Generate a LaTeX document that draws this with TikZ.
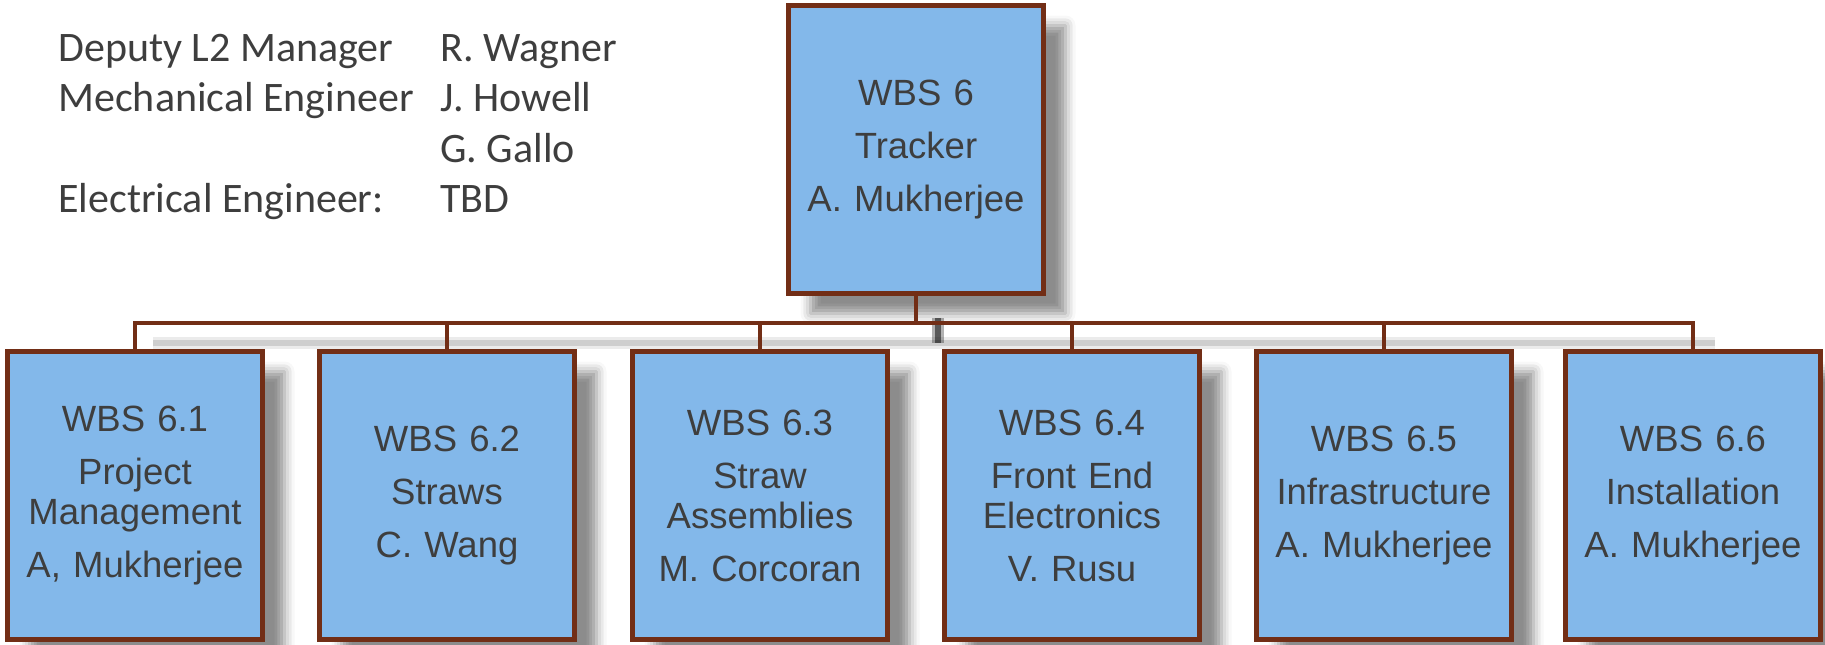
\documentclass[tikz,border=0pt]{standalone}
\usepackage{fontspec}
\setmainfont{Liberation Sans}
\newfontfamily\calib{Carlito}
\usetikzlibrary{shadows.blur}
\definecolor{boxfill}{RGB}{131,184,234}
\definecolor{boxline}{RGB}{114,46,22}
\definecolor{txt}{RGB}{62,62,62}
\begin{document}
\begin{tikzpicture}[x=0.5pt,y=-0.5pt,
  wbs/.style={draw=boxline, line width=2.5pt, fill=boxfill, minimum width=127.5pt,
    minimum height=144pt, text width=124pt, align=center, inner sep=0pt, text=txt,
    font=\fontsize{18.25}{20}\selectfont,
    blur shadow={shadow xshift=11pt, shadow yshift=-10pt, shadow blur radius=5pt, shadow opacity=45}},
  conn/.style={draw=boxline, line width=2pt},
  cshadow/.style={draw=black, opacity=#1},
  info/.style={anchor=base west, inner sep=0pt, text=txt, font=\calib\fontsize{21}{25}\selectfont}]
\useasboundingbox (0,0) rectangle (1825,644);

\coordinate (bus) at (916,323);
\coordinate (busS) at (938,343);
\coordinate (busSL) at (153,343);
\coordinate (busSR) at (1715,343);

% info text
\node[info] (l1) at (58,61) {Deputy L2 Manager};
\node[info] (l2) at (58,111) {Mechanical Engineer};
\node[info] (l4) at (58,212) {Electrical Engineer:};
\node[info] (v1) at (440,61) {R. Wagner};
\node[info] (v2) at (440,111) {J. Howell};
\node[info] (v3) at (440,162) {G. Gallo};
\node[info] (v4) at (440,212) {TBD};

% connector shadows
\draw[cshadow=0.08, line width=6pt] (busSL) -- (busSR);
\draw[cshadow=0.12, line width=3pt] (busSL) -- (busSR);
\draw[cshadow=0.3, line width=6pt] (938,318) -- (busS);
\draw[cshadow=0.5, line width=3pt] (938,318) -- (busS);

% boxes
\node[wbs] (top) at (916,149.5) {WBS 6\\[6.5pt]Tracker\\[6.5pt]A. Mukherjee};
\node[wbs] (b1) at (135,495.5) {WBS 6.1\\[6.5pt]Project\\Management\\[6.5pt]A, Mukherjee};
\node[wbs] (b2) at (447,495.5) {WBS 6.2\\[6.5pt]Straws\\[6.5pt]C. Wang};
\node[wbs] (b3) at (760,495.5) {WBS 6.3\\[6.5pt]Straw\\Assemblies\\[6.5pt]M. Corcoran};
\node[wbs] (b4) at (1072,495.5) {WBS 6.4\\[6.5pt]Front End\\Electronics\\[6.5pt]V. Rusu};
\node[wbs] (b5) at (1384,495.5) {WBS 6.5\\[6.5pt]Infrastructure\\[6.5pt]A. Mukherjee};
\node[wbs] (b6) at (1693,495.5) {WBS 6.6\\[6.5pt]Installation\\[6.5pt]A. Mukherjee};

% connectors
\foreach \b in {b1,b2,b3,b4,b5,b6}{
  \draw[conn] (top.south) -- (bus) -| (\b.north);
}
\end{tikzpicture}
\end{document}
